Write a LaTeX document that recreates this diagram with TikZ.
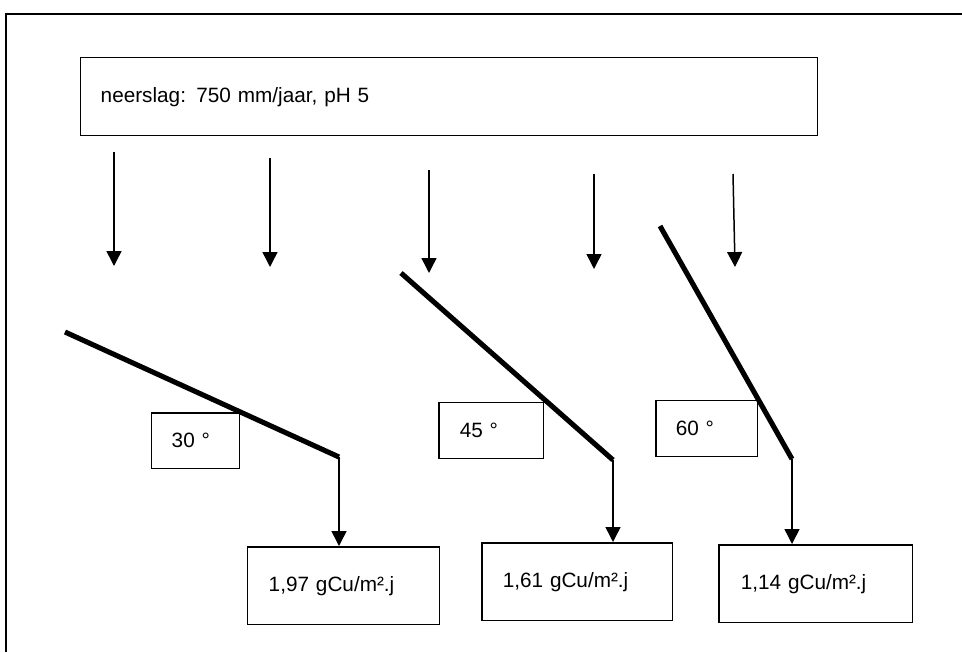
\documentclass[tikz,border=0pt]{standalone}
\usepackage{fontspec}
\setmainfont{Liberation Sans}
\usetikzlibrary{arrows.meta}
\tikzset{
  pijl/.style={line width=0.85pt, -{Triangle[length=8.5pt,width=8.5pt]}},
  plaat/.style={line width=2.9pt},
  vak/.style n args={3}{draw, line width=0.85pt, anchor=north west, inner xsep=#1, inner ysep=0pt, text width=#2, minimum height=#3, align=left, font=\fontsize{11.8}{14}\selectfont},
}
\begin{document}
\begin{tikzpicture}[x=0.02cm, y=-0.02cm]
\useasboundingbox (0,0) rectangle (962,652);
\draw[line width=0.85pt] (6,652) -- (6,14) -- (962,14);
\node[vak={0.4cm}{13.94cm}{1.56cm}] (regen) at (80,57) {neerslag: 750 mm/jaar, pH 5};
\foreach \x/\a/\b/\c [count=\i] in {114/152/266/114, 270/158/267/270, 429/170/273/429, 594/174/269/594, 733/174/267/735} {
  \coordinate (d\i a) at (\x,\a);
  \coordinate (d\i b) at (\c,\b);
  \draw[pijl] (d\i a) -- (d\i b);
}
\coordinate (p1a) at (65,332);
\coordinate (p1b) at (339,457);
\coordinate (p2a) at (401,273);
\coordinate (p2b) at (613,460);
\coordinate (p3a) at (660,226);
\coordinate (p3b) at (792,459);
\draw[plaat] (p1a) -- (p1b);
\draw[plaat] (p2a) -- (p2b);
\draw[plaat] (p3a) -- (p3b);
\node[vak={0.4cm}{0.96cm}{1.12cm}] (h30) at (151,412) {30 °};
\node[vak={0.42cm}{1.26cm}{1.12cm}] (h45) at (438,402) {45 °};
\node[vak={0.4cm}{1.24cm}{1.12cm}] (h60) at (655,400) {60 °};
\node[vak={0.42cm}{3.0cm}{1.56cm}] (cu30) at (247,546) {1,97 gCu/m².j};
\node[vak={0.42cm}{2.98cm}{1.56cm}] (cu45) at (481,542) {1,61 gCu/m².j};
\node[vak={0.44cm}{3.0cm}{1.56cm}] (cu60) at (718,544) {1,14 gCu/m².j};
\draw[pijl] (p1b) -- (p1b |- cu30.north);
\draw[pijl] (p2b) -- (p2b |- cu45.north);
\draw[pijl] (p3b) -- (p3b |- cu60.north);
\end{tikzpicture}
\end{document}
